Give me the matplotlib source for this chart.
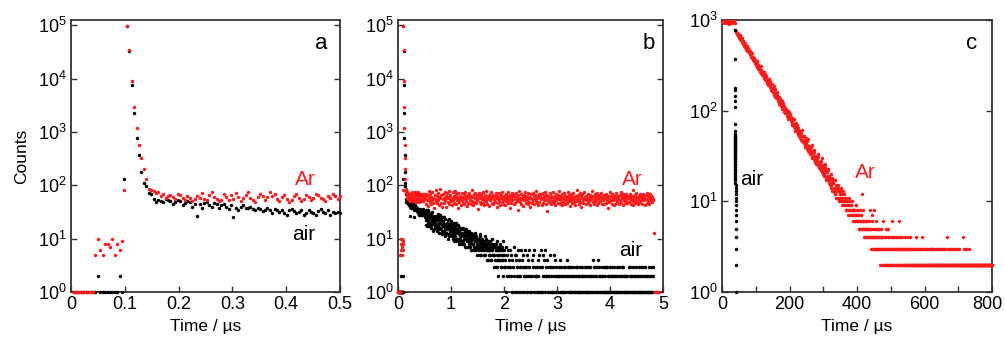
import numpy as np
import matplotlib
matplotlib.use('Agg')
import matplotlib.pyplot as plt
from matplotlib.ticker import LogLocator, NullLocator, LogFormatterSciNotation
from matplotlib.transforms import ScaledTranslation

plt.rcParams['font.family'] = ['Liberation Sans', 'DejaVu Sans']
plt.rcParams['mathtext.fontset'] = 'custom'
plt.rcParams['mathtext.rm'] = 'Liberation Sans'
plt.rcParams['mathtext.default'] = 'regular'

# --- panel a (and start of panel b): 4.5 ns channels from 0.005 us ---
t0_a, dt_a = 0.005, 0.0045
red_a = [1, 1, 1, 1, 1, 1, 1, 1, 1,
         5, 10, 6, 5, 8, 8, 7, 10, 5, 8, 6, 9,
         80, 98000, 35000, 9100, 2900, 1200, 580, 330, 198, 130,
         87, 80, 78, 72, 75, 64, 68, 58, 62, 66,
         60, 55, 70, 66, 58, 52, 62, 58, 50, 56,
         64, 58, 72, 55, 52, 66, 74, 60, 56, 50,
         54, 70, 60, 52, 66, 56, 72, 60, 50, 58,
         66, 74, 58, 52, 48, 60, 70, 64, 52, 60,
         74, 62, 68, 55, 50, 60, 66, 56, 48, 54,
         64, 70, 58, 50, 56, 66, 60, 52, 58, 68,
         66, 58, 56, 50, 62, 58, 68, 62, 55, 64]
black_a = [1, 1, 1, 1, 1, 1, 1, 1, 1,
           1, 2, 1, 1, 1, 1, 1, 1, 1, 1, 2, 1,
           130, 98000, 33000, 7600, 2300, 780, 365, 174, 110, 99,
           72, 70, 55, 49, 52, 50, 48, 55, 52, 50,
           45, 48, 52, 50, 42, 46, 50, 48, 40, 45,
           27, 44, 38, 46, 48, 42, 40, 46, 44, 38,
           42, 45, 40, 36, 42, 25, 38, 35, 40, 42,
           38, 38, 40, 36, 34, 38, 36, 33, 35, 38,
           34, 30, 36, 34, 32, 35, 30, 28, 34, 36,
           33, 30, 32, 35, 28, 30, 34, 32, 30, 28,
           33, 36, 32, 30, 34, 28, 32, 30, 31, 30]

# --- panel b continuation: 10 ns steps from 0.51 us ---
t0_b, dt_b = 0.51, 0.01
red_b = """
58 70 45 66 52 41 63 78 55 48 69 44 61 53 74 47 59 38 66 56 80 50 46 62
52 72 43 60 57 86 47 66 40 55 70 59 46 75 53 64 39 58 71 49 61 77 44 56
65 50 59 42 74 54 63 47 79 57 45 68 52 61 37 71 56 48 64 43 59 73 53 46
61 70 44 56 76 50 64 41 58 67 47 73 53 60 45 63 51 82 42 61 69 48 57 71
46 59 65 54 36 72 57 49 63 44 70 56 61 47 75 52 43 66 58 50 77 45 59 64
56 41 68 52 61 74 47 58 44 66 53 62 48 71 59 40 64 56 46 73 51 60 43 67
58 48 76 54 45 62 59 42 70 50 64 56 74 46 61 52 38 66 57 47 71 53 62 44
67 55 47 60 72 50 58 34 65 53 77 48 59 45 70 56 62 41 66 52 58 75 47 61
54 64 44 71 57 48 61 40 68 56 47 73 52 62 45 59 66 50 78 46 57 64 42 70
49 61 56 68 43 59 72 47 62 52 58 76 45 66 54 33 63 56 48 72 59 44 62 51
61 50 74 46 57 64 42 70 54 59 47 66 56 79 45 62 51 58 43 68 60 48 71 55
44 64 54 61 47 75 58 50 66 41 59 70 52 62 46 73 56 48 60 43 64 53 82 50
58 67 45 56 72 48 62 40 59 68 52 47 74 56 61 44 63 53 58 70 46 59 50 66
42 61 56 77 48 63 54 45 68 57 51 62 43 72 59 47 66 56 50 61 73 45 58 64
52 44 66 57 61 47 70 54 59 38 64 56 48 74 52 62 45 68 57 53 61 43 66 56
47 71 59 50 62 56 44 67 54 76 48 61 57 42 70 52 64 46 59 68 54 47 62 58
61 48 68 56 45 64 59 51 80 43 62 54 66 47 58 72 50 61 44 64 56 70 48 59
54 62 45 58 69 52 61 42 66 56 47 71 59 50 62 44 70 57 53 64 48 61 56 52
"""
red_b_end_t = [4.83, 4.85, 4.87, 4.89, 4.91, 4.93]
red_b_end = [13, 1, 1, 1, 1, 1]
# air, 0.51 .. 2.00 us and the half-step channels 0.515 .. 2.005 us
black_b_early = """
31 22 27 17 25 34 20 26 19 29
23 28 16 25 31 19 22 15 27 21
18 26 14 22 29 17 24 13 21 25
16 22 12 20 26 14 19 11 23 17
13 20 15 10 18 23 12 17 14 21
11 16 19 12 14 9 17 13 20 10
15 10 13 18 8 14 11 16 12 9
13 8 16 11 10 14 7 12 15 9
10 12 7 14 9 11 13 6 10 8
12 8 10 6 13 9 7 11 8 10
7 10 9 5 12 8 6 10 7 9
9 6 8 11 5 7 10 6 8 4
6 8 5 9 7 4 10 6 8 5
7 5 8 3 6 9 4 7 2 6
5 8 4 6 3 7 5 9 4 6
"""
black_b_half = """
26 35 18 23 29 21 33 17 24 20
30 18 24 21 14 27 20 25 17 23
22 16 27 19 24 15 20 28 16 19
19 25 14 17 21 13 25 16 18 13
17 12 22 16 11 19 15 13 20 12
14 18 10 16 13 20 11 15 9 14
10 14 17 9 12 16 10 13 8 15
12 9 11 15 8 13 10 7 11 14
9 11 13 8 10 7 12 9 11 6
8 11 7 10 12 6 9 8 5 10
10 6 8 7 11 5 9 7 8 6
5 8 7 9 6 8 4 7 9 6
7 5 9 6 4 8 6 5 7 3
5 7 4 6 8 3 5 6 4 7
4 6 3 7 5 4 6 2 5 3
"""
# one digit per channel, 2.01 .. 4.82 us
black_b_late = """
4371526342 3625143725 1452316243 2614352136 3251426312
1423516232 2314251361 3125241632 2413215231 1325124312
2132413212 1231321423 2312131212 3121231321 1213212312
2131231213 1321214231 2312131423 1213212131 2131321213
1223121312 2131213212 1312312121 2121313212 1231212131
2123121312 1312131212 2131213121 23
"""

# --- panel c: Ar, us ---
t_c_plateau = 0
red_c_plateau = [960, 940, 980, 920, 970, 950, 975, 930, 960, 980,
                 940, 910, 970, 950, 985, 930, 960, 940, 975, 920]
t_c_decay = 40      # even microseconds 40 .. 418
red_c_decay = [780, 735, 728, 690, 705, 655, 690, 610, 640, 628,
               570, 590, 548, 522, 560, 515, 478, 500, 462, 470,
               440, 452, 418, 395, 430, 395, 360, 372, 380, 338,
               345, 318, 352, 300, 322, 300, 282, 268, 310, 275,
               262, 250, 230, 255, 218, 240, 212, 206, 198, 222,
               190, 212, 178, 168, 195, 180, 160, 152, 172, 140,
               158, 138, 150, 128, 120, 142, 118, 125, 132, 104,
               110, 122, 96, 108, 100, 102, 88, 94, 80, 96,
               84, 92, 76, 70, 82, 78, 66, 72, 60, 74,
               62, 70, 56, 64, 52, 60, 50, 54, 62, 46,
               52, 44, 48, 40, 50, 45, 38, 49, 36, 41,
               40, 33, 36, 42, 30, 34, 29, 37, 27, 32,
               30, 26, 33, 24, 27, 27, 22, 25, 30, 20,
               24, 19, 22, 26, 18, 21, 17, 23, 16, 19,
               18, 15, 20, 13, 17, 16, 13, 17, 12, 15,
               14, 11, 15, 13, 10, 12, 14, 10, 11, 13,
               10, 12, 9, 11, 8, 10, 8, 9, 11, 7,
               8, 9, 7, 10, 8, 7, 8, 6, 9, 7,
               8, 6, 7, 5, 8, 6, 7, 5, 12, 6]
t_c_decay_odd = 41  # odd microseconds 41 .. 419
red_c_decay_odd = [752, 720, 700, 668, 672, 640, 660, 600, 612, 585,
                   590, 540, 560, 512, 505, 498, 520, 455, 488, 440,
                   462, 420, 430, 402, 385, 378, 392, 350, 360, 345,
                   330, 305, 335, 290, 312, 288, 305, 262, 280, 250,
                   248, 268, 236, 222, 240, 228, 200, 218, 192, 205,
                   202, 182, 196, 175, 165, 170, 185, 148, 158, 150,
                   145, 160, 132, 140, 124, 135, 120, 112, 128, 118,
                   116, 104, 112, 95, 105, 98, 92, 100, 84, 90,
                   88, 80, 86, 74, 78, 72, 80, 64, 70, 66,
                   66, 58, 62, 54, 60, 55, 58, 48, 52, 45,
                   48, 52, 42, 46, 44, 42, 46, 38, 40, 35,
                   38, 35, 40, 31, 34, 32, 35, 28, 30, 26,
                   28, 31, 25, 27, 23, 24, 28, 21, 23, 25,
                   22, 20, 24, 17, 21, 19, 22, 17, 18, 15,
                   17, 14, 18, 16, 13, 14, 17, 12, 14, 11,
                   13, 11, 14, 10, 12, 11, 13, 9, 12, 10,
                   9, 11, 10, 8, 10, 9, 7, 10, 8, 9,
                   7, 9, 8, 6, 8, 8, 6, 7, 9, 6,
                   6, 7, 5, 8, 6, 5, 7, 6, 8, 5]
t_c_tail = 420
# one digit per microsecond, 420 .. 800 us
red_c_tail = """
54645456546545465845 45346743548345346345 34534354234534234632
32432534232435234232 34263243234232342323 24326323423232432323
23243232324232322432 32232322323223242322 32232232232242322322
23223222322322232232 22322232232222322322 32222322232222232223
22322242232222322223 22223222223222223222 22232222222224222322
22223222222322222222 22222222222222222222 22222222222222222222
22222222222222222222 2
"""
black_c = [780, 370, 178, 168, 145, 127, 110, 72, 59,
           55, 53, 52, 50, 49, 47, 46, 45, 44, 43, 42, 41, 40, 39, 38, 37,
           36, 35, 34, 33, 32, 31, 30, 29, 28, 27, 26, 25, 24, 23, 22, 21,
           20, 19, 18, 17, 16, 15, 14, 13, 12, 11, 10, 9, 8, 7, 6, 5, 4, 3, 2, 1]


def nums(s):
    return [float(v) for v in s.split()]


def digits(s):
    return [float(c) for c in s if c.isdigit()]


# assemble series
red_a = np.array(red_a, float)
black_a = np.array(black_a, float)
t_a = t0_a + dt_a * np.arange(len(red_a))

red_b = np.array(nums(red_b))
t_b = t0_b + dt_b * np.arange(len(red_b))
black_b = np.array(nums(black_b_early) + digits(black_b_late))
black_b_h = np.array(nums(black_b_half))
t_b_h = t0_b + dt_b / 2 + dt_b * np.arange(len(black_b_h))

red_c = np.concatenate([red_c_plateau, red_c_decay, red_c_decay_odd, digits(red_c_tail)])
t_c = np.concatenate([t_c_plateau + 2 * np.arange(len(red_c_plateau)),
                      t_c_decay + 2 * np.arange(len(red_c_decay)),
                      t_c_decay_odd + 2 * np.arange(len(red_c_decay_odd)),
                      t_c_tail + np.arange(len(digits(red_c_tail)))])
t_black_c = np.linspace(38.5, 40.5, len(black_c))

RED = '#ff1a1a'
MS = 2.5
FS = 13


def style(ax, xlim, xticks, xlabels, ylim):
    ax.set_yscale('log')
    ax.set_xlim(xlim)
    ax.set_ylim(ylim)
    ax.set_xticks(xticks)
    ax.set_xticklabels(xlabels)
    ax.yaxis.set_major_locator(LogLocator(base=10, numticks=10))
    ax.yaxis.set_major_formatter(LogFormatterSciNotation())
    ax.yaxis.set_minor_locator(NullLocator())
    ax.tick_params(which='both', direction='in', right=True, top=False,
                   length=4, width=1, labelsize=FS, pad=3, color='#333333')
    for sp in ax.spines.values():
        sp.set_linewidth(1.3)
        sp.set_color('#333333')
    ax.set_xlabel('Time / µs', fontsize=12.5)
    ax.xaxis.set_label_coords(0.5, -0.10)
    ax.xaxis.label.set_va('top')


def dots(ax, x, y, color):
    ax.plot(x, y, 'o', color=color, ms=MS, mew=0, clip_on=False, ls='none', zorder=3)


fig = plt.figure(figsize=(10.05, 3.37), dpi=100)
ax_a = fig.add_axes([0.0706, 0.1335, 0.2677, 0.8071])
ax_b = fig.add_axes([0.3960, 0.1335, 0.2637, 0.8071])
ax_c = fig.add_axes([0.7184, 0.1335, 0.2687, 0.8071])

# a
m = t_a <= 0.5
dots(ax_a, t_a[m], black_a[m], 'black')
dots(ax_a, t_a[m], red_a[m], RED)
style(ax_a, (0, 0.5), [0, 0.1, 0.2, 0.3, 0.4, 0.5],
      ['0', '0.1', '0.2', '0.3', '0.4', '0.5'], (1, 1.25e5))
ax_a.set_ylabel('Counts', fontsize=12.5)
ax_a.yaxis.set_label_coords(-0.157, 0.5)
ax_a.text(0.929, 0.893, 'a', transform=ax_a.transAxes, fontsize=16, ha='center')
ax_a.text(0.872, 0.393, 'Ar', transform=ax_a.transAxes, fontsize=15, ha='center', color=RED)
ax_a.text(0.864, 0.191, 'air', transform=ax_a.transAxes, fontsize=15, ha='center')

# b
dots(ax_b, np.concatenate([t_a, t_b, t_b_h]),
     np.concatenate([black_a, black_b, black_b_h]), 'black')
dots(ax_b, np.concatenate([t_a, t_b, red_b_end_t]),
     np.concatenate([red_a, red_b, red_b_end]), RED)
style(ax_b, (0, 5), [0, 1, 2, 3, 4, 5], ['0', '1', '2', '3', '4', '5'], (1, 1.25e5))
ax_b.text(0.947, 0.893, 'b', transform=ax_b.transAxes, fontsize=16, ha='center')
ax_b.text(0.883, 0.393, 'Ar', transform=ax_b.transAxes, fontsize=15, ha='center', color=RED)
ax_b.text(0.879, 0.132, 'air', transform=ax_b.transAxes, fontsize=15, ha='center')

# c
dots(ax_c, t_c, red_c, RED)
dots(ax_c, t_black_c, black_c, 'black')
style(ax_c, (0, 800), list(range(0, 801, 100)),
      ['0', '', '200', '', '400', '', '600', '', '800'], (1, 1000))
ax_c.text(0.926, 0.893, 'c', transform=ax_c.transAxes, fontsize=16, ha='center')
ax_c.text(0.109, 0.393, 'air', transform=ax_c.transAxes, fontsize=15, ha='center')
ax_c.text(0.531, 0.419, 'Ar', transform=ax_c.transAxes, fontsize=15, ha='center', color=RED)
last = ax_c.get_xticklabels()[-1]
last.set_transform(last.get_transform() + ScaledTranslation(-3 / 72, 0, fig.dpi_scale_trans))

fig.savefig('out.png', dpi=100)
